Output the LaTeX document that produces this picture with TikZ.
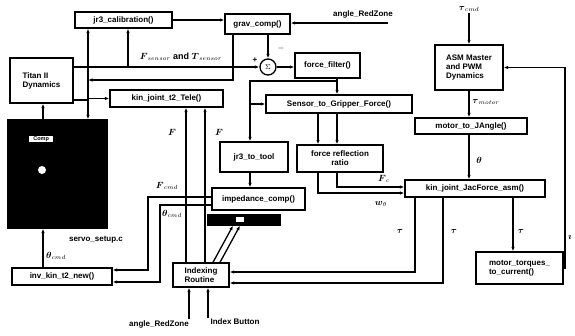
\documentclass[tikz,border=0pt]{standalone}
\usepackage{amsmath}
\usepackage{fontspec}
\setmainfont{Liberation Sans}
\usetikzlibrary{arrows.meta}
\newcommand\fsz{\fontsize{8}{9}\selectfont\bfseries}
\newcommand\msz{\fontsize{9}{10}\selectfont\bfseries}
\newcommand\bsym[1]{\boldsymbol{#1}}
\begin{document}
\begin{tikzpicture}[x=1pt,y=-1pt,
  box/.style={draw, line width=1.3pt, inner sep=1pt, font=\fsz, fill=white},
  ln/.style={line width=1.3pt},
  ar/.style={line width=1.3pt, -{Latex[length=4.5pt,width=3.5pt]}},
  lbl/.style={font=\fsz, inner sep=1pt},
  mlbl/.style={font=\msz, inner sep=1pt}]
\fill[white] (0,0) rectangle (575,336);
\useasboundingbox (0,0) rectangle (575,336);
% boxes
\node[box, minimum width=97pt, minimum height=16pt] (jr3cal) at (123.5,20) {jr3\_calibration()};
\node[box, minimum width=65pt, minimum height=20pt] (grav) at (257.5,24) {grav\_comp()};
\node[box, minimum width=63pt, minimum height=45pt, align=left] (titan) at (41.5,80.5) {Titan II\\Dynamics};
\node[box, minimum width=65pt, minimum height=25pt] (ffilt) at (327.5,65.5) {force\_filter()};
\node[draw, circle, line width=1.3pt, minimum size=16pt, inner sep=0pt, font=\fontsize{7}{7}\selectfont] (sum) at (268,67) {$\Sigma$};
\node[box, minimum width=113pt, minimum height=17pt] (kint2) at (166.5,98.5) {kin\_joint\_t2\_Tele()};
\node[box, minimum width=146pt, minimum height=18pt] (s2g) at (339,104) {Sensor\_to\_Gripper\_Force()};
\node[draw, fill=black, line width=1.3pt, minimum width=99pt, minimum height=108pt] (blk) at (57.5,174) {};
\node[fill=white, font=\fontsize{5.5}{6}\selectfont\bfseries, inner sep=1pt, minimum width=24pt, anchor=west] (comp) at (29,139) {Comp};
\node[circle, fill=white, minimum size=8pt, inner sep=0pt] (blob) at (42,170) {};
\node[box, minimum width=68pt, minimum height=30pt] (jr3tool) at (254,157) {jr3\_to\_tool};
\node[box, minimum width=86pt, minimum height=27pt, align=center] (frr) at (340,158.5) {force reflection\\ratio};
\node[box, minimum width=93pt, minimum height=22pt] (imp) at (258.5,199) {impedance\_comp()};
\node[draw, fill=black, line width=1.3pt, minimum width=72pt, minimum height=10pt, inner sep=0pt] (dark) at (244,220) {};
\node[fill=white, minimum width=8pt, minimum height=5pt, inner sep=0pt] (darkspot) at (240,220) {};
\node[box, minimum width=56pt, minimum height=24pt, align=left] (idx) at (201,275) {Indexing\\Routine};
\node[box, minimum width=100pt, minimum height=17pt] (invk) at (62,276.5) {inv\_kin\_t2\_new()};
\node[box, minimum width=68pt, minimum height=45pt, align=left] (asm) at (469,67.5) {ASM Master\\and PWM\\Dynamics};
\node[box, minimum width=112pt, minimum height=16pt] (m2j) at (471,126) {motor\_to\_JAngle()};
\node[box, minimum width=140pt, minimum height=17pt] (jac) at (475,188.5) {kin\_joint\_JacForce\_asm()};
\node[box, minimum width=87pt, minimum height=32pt, align=left] (mtc) at (519.5,268) {motor\_torques\_\\to\_current()};
% helper coordinates
\coordinate (L) at ([xshift=-35.5pt]jr3cal.south);
\coordinate (J) at ([xshift=4.5pt]jr3cal.south);
\coordinate (G) at ([xshift=-24.5pt]grav.south);
\coordinate (Y80) at (0,80);
\coordinate (Y81) at (0,81);
\coordinate (FF) at ([xshift=9.5pt]ffilt.south);
\coordinate (T) at ([xshift=-4pt]jr3tool.north);
\coordinate (X318) at (318,0);
\coordinate (X337) at (337,0);
\coordinate (X186) at (186,0);
\coordinate (X205) at (205,0);
\coordinate (X148) at (148,0);
\coordinate (X160) at (160,0);
\coordinate (X43) at (43,0);
\coordinate (X513) at (513,0);
\coordinate (X566) at (565,0);
\coordinate (X189) at (189,0);
\coordinate (X208) at (208,0);
\coordinate (IK1) at ([yshift=6.5pt]invk.east);
\coordinate (IK2) at ([yshift=-5.5pt]invk.east);
\coordinate (IM1) at ([yshift=2pt]imp.west);
\coordinate (IM2) at ([yshift=-6pt]imp.west);
\coordinate (IX1) at ([yshift=3pt]idx.east);
\coordinate (IX2) at ([yshift=-8pt]idx.east);
\coordinate (RZ) at (388,23);
% connectors, upper left
\draw[ar] (jr3cal.east) -- (jr3cal.east -| grav.west);
\draw[ar] (RZ) -- (RZ -| grav.east);
\draw[ar] (titan.east |- sum.west) -- (sum.west);
\draw[ar] (J |- sum.west) -- (J);
\draw[ar] (sum.north |- grav.south) -- (sum.north);
\draw[ar] (sum.east) -- (sum.east -| ffilt.west);
\draw[ar] (G) |- (L |- Y80);
\draw[ar] (L |- kint2.west) -- (L);
\draw[ar] (L |- kint2.west) -- (L |- blk.north);
\draw[ar] (L |- kint2.west) -- (kint2.west);
\draw[ln] ([yshift=-19.5pt]titan.east) -- ++(15,0);
\draw[ar] (blk.north -| X43) -- (titan.south -| X43);
\draw[ar] (invk.north -| X43) -- (blk.south -| X43);
% force path
\draw[ar] (FF) -- (FF |- s2g.north);
\draw[ar] (FF |- Y81) -| (T);
\draw[ar] (T |- s2g.west) -- (s2g.west);
\draw[ar] (s2g.south -| X318) -- (frr.north -| X318);
\draw[ar] (s2g.south -| X337) -- (frr.north -| X337);
\draw[ar] (frr.south -| X337) |- ([yshift=1.5pt]jac.west);
\draw[ar] (frr.south -| X318) |- ([yshift=-4.5pt]jac.west);
\draw[ar] (jr3tool.south -| T) -- (imp.north -| T);
% kin_joint_t2 and indexing
\draw[ar] (idx.north -| X186) -- (kint2.south -| X186);
\draw[ar] (idx.north -| X205) -- (kint2.south -| X205);
\draw[ar] (IM1) -| (X148 |- IK1) -- (IK1);
\draw[ar] (IM2) -| (X160 |- IK2) -- (IK2);
\draw[ar] ([xshift=12pt]idx.north) -- ([xshift=-11pt]dark.south);
\draw[ar] ([xshift=19pt]idx.north) -- ([xshift=-4pt]dark.south);
\draw[ar] ([xshift=-60pt]jac.south) |- (IX1);
\draw[ar] ([xshift=-32pt]jac.south) |- (IX2);
% right side
\node[mlbl] (tcmd) at (469,9) {$\bsym{\tau}_{cmd}$};
\draw[ar] (tcmd.south) -- (asm.north);
\draw[ar] (asm.south) -- (asm.south |- m2j.north);
\draw[ar] (asm.south |- m2j.south) -- (asm.south |- jac.north);
\draw[ar] (jac.south -| X513) -- (mtc.north -| X513);
\draw[ar] (mtc.east) -| (X566 |- asm.east) -- (asm.east);
% bottom inputs
\node[lbl] (rzb) at (159,324) {angle\_RedZone};
\node[lbl] (ib) at (235,322) {Index Button};
\draw[ar] (rzb.north -| X189) -- (idx.south -| X189);
\draw[ar] (ib.north -| X208) -- (idx.south -| X208);
% labels
\node[lbl] (rzt) at (363,14) {angle\_RedZone};
\node[mlbl] (fts) at (181,57) {$\bsym{F}_{sensor}$ and $\bsym{T}_{sensor}$};
\node[lbl] (plus) at (255,60) {+};
\node[lbl] (minus) at (281,49) {$-$};
\node[mlbl] (tmot) at (486,102) {$\bsym{\tau}_{motor}$};
\node[mlbl] (thm) at (479,160) {$\bsym{\theta}$};
\node[mlbl] (f1) at (172,132) {$\bsym{F}$};
\node[mlbl] (f2) at (219,132) {$\bsym{F}$};
\node[mlbl] (fcmd) at (167,186) {$\bsym{F}_{cmd}$};
\node[mlbl] (thcmd) at (172,214) {$\bsym{\theta}_{cmd}$};
\node[mlbl] (fc) at (384,179) {$\bsym{F}_{c}$};
\node[mlbl] (wth) at (381,204) {$\bsym{w}_{\theta}$};
\node[mlbl] (t1) at (400,232) {$\bsym{\tau}$};
\node[mlbl] (t2) at (454,232) {$\bsym{\tau}$};
\node[mlbl] (t3) at (521,232) {$\bsym{\tau}$};
\node[lbl] (servo) at (96,240) {servo\_setup.c};
\node[mlbl] (thb) at (56,256) {$\bsym{\theta}_{cmd}$};
\node[mlbl] (cur) at (570,238) {$\bsym{\imath}$};
\end{tikzpicture}
\end{document}
